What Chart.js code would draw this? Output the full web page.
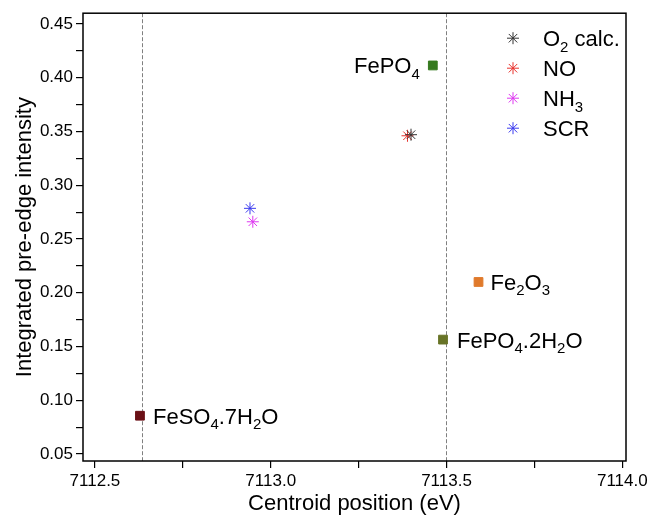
<!DOCTYPE html>
<html>
<head>
<meta charset="utf-8">
<script src="https://cdn.jsdelivr.net/npm/chart.js@4.4.0/dist/chart.umd.min.js"></script>
<style>
	html, body { margin: 0; padding: 0; background: #fff; }
	#wrap { width: 652px; height: 515px; }
</style>
</head>
<body>
<div id="wrap"><canvas id="chart" width="652" height="515"></canvas></div>
<script>
// samples (asterisks)
const sampleNames = ['O_2 calc.', 'NO', 'NH_3', 'SCR'];
const sampleX = [7113.399, 7113.389, 7112.949, 7112.941];
const sampleY = [0.347, 0.346, 0.266, 0.2785];
const sampleColors = ['#333333', '#e8322c', '#dd38f0', '#3a3aef'];

// reference compounds (squares)
const refNames = ['FePO_4', 'Fe_2O_3', 'FePO_4.2H_2O', 'FeSO_4.7H_2O'];
const refX = [7113.461, 7113.591, 7113.49, 7112.628];
const refY = [0.4114, 0.210, 0.1564, 0.0856];
const refColors = ['#367a1f', '#e07a2b', '#687427', '#6a1016'];

// dashed guide lines
const guideX = [7112.633, 7113.498];

const xTicks = [7112.5, 7112.75, 7113.0, 7113.25, 7113.5, 7113.75, 7114.0];
const xTickLabels = ['7112.5', '', '7113.0', '', '7113.5', '', '7114.0'];
const yTicks = [0.05, 0.075, 0.10, 0.125, 0.15, 0.175, 0.20, 0.225, 0.25, 0.275, 0.30, 0.325, 0.35, 0.375, 0.40, 0.425, 0.45];
const yTickLabels = ['0.05', '', '0.10', '', '0.15', '', '0.20', '', '0.25', '', '0.30', '', '0.35', '', '0.40', '', '0.45'];

const family = '"Liberation Sans", Arial, sans-serif';
Chart.defaults.font.family = family;
Chart.defaults.color = '#000';

// text with _n subscripts
function drawRich(ctx, str, x, y, align, size) {
	const parts = [];
	str.split(/(_\d)/).forEach(p => {
		if (!p) return;
		if (p[0] === '_') parts.push({ t: p.slice(1), sub: true });
		else parts.push({ t: p, sub: false });
	});
	const big = size + 'px ' + family;
	const small = Math.round(size * 0.66) + 'px ' + family;
	let w = 0;
	parts.forEach(p => {
		ctx.font = p.sub ? small : big;
		p.w = ctx.measureText(p.t).width;
		w += p.w;
	});
	let cx = align === 'right' ? x - w : x;
	ctx.textAlign = 'left';
	ctx.textBaseline = 'alphabetic';
	parts.forEach(p => {
		ctx.font = p.sub ? small : big;
		ctx.fillText(p.t, cx, p.sub ? y + size * 0.25 : y);
		cx += p.w;
	});
}

const datasets = [];
refNames.forEach((n, i) => {
	datasets.push({
		label: n,
		data: [{ x: refX[i], y: refY[i] }],
		pointStyle: 'rect',
		pointRadius: 6.2,
		backgroundColor: refColors[i],
		borderColor: refColors[i],
		borderWidth: 1
	});
});
sampleNames.forEach((n, i) => {
	datasets.push({
		label: n,
		data: [{ x: sampleX[i], y: sampleY[i] }],
		pointStyle: 'star',
		pointRadius: 6,
		backgroundColor: sampleColors[i],
		borderColor: sampleColors[i],
		borderWidth: 1
	});
});

const annotate = {
	id: 'annotate',
	beforeDatasetsDraw(chart) {
		const { ctx, chartArea, scales } = chart;
		ctx.save();
		ctx.strokeStyle = '#808080';
		ctx.lineWidth = 1;
		ctx.setLineDash([4, 2]);
		guideX.forEach(v => {
			const px = Math.round(scales.x.getPixelForValue(v)) + 0.5;
			ctx.beginPath();
			ctx.moveTo(px, chartArea.top);
			ctx.lineTo(px, chartArea.bottom);
			ctx.stroke();
		});
		ctx.restore();
	},
	afterDatasetsDraw(chart) {
		const { ctx, chartArea, scales } = chart;
		ctx.save();
		// frame
		ctx.strokeStyle = '#000';
		ctx.lineWidth = 1.5;
		ctx.strokeRect(chartArea.left, chartArea.top, chartArea.right - chartArea.left, chartArea.bottom - chartArea.top);

		// compound labels
		ctx.fillStyle = '#000';
		const place = [[-13, 'right'], [12, 'left'], [14, 'left'], [13, 'left']];
		refNames.forEach((n, i) => {
			const px = scales.x.getPixelForValue(refX[i]);
			const py = scales.y.getPixelForValue(refY[i]);
			drawRich(ctx, n, px + place[i][0], py + 8, place[i][1], 22);
		});

		// legend
		const lx = chartArea.right - 113;
		let ly = chartArea.top + 25;
		sampleNames.forEach((n, i) => {
			ctx.strokeStyle = sampleColors[i];
			ctx.fillStyle = sampleColors[i];
			ctx.lineWidth = 1;
			Chart.helpers.drawPoint(ctx, { pointStyle: 'star', radius: 6, borderWidth: 1 }, lx, ly);
			ctx.fillStyle = '#000';
			drawRich(ctx, n, lx + 30, ly + 8, 'left', 22);
			ly += 30;
		});
		ctx.restore();
	}
};

new Chart(document.getElementById('chart').getContext('2d'), {
	type: 'scatter',
	data: { datasets },
	options: {
		responsive: false,
		animation: false,
		layout: { padding: { top: 13, right: 26, left: 0, bottom: 0 } },
		plugins: { legend: { display: false }, tooltip: { enabled: false } },
		scales: {
			x: {
				type: 'linear',
				min: 7112.466,
				max: 7114.0105,
				afterBuildTicks: s => { s.ticks = xTicks.map(v => ({ value: v })); },
				afterFit: s => { s.height = 54; },
				ticks: {
					autoSkip: false,
					maxRotation: 0,
					padding: 3,
					font: { size: 17 },
					color: '#000',
					callback: (v, i) => xTickLabels[i]
				},
				grid: { drawOnChartArea: false, drawTicks: true, tickLength: 7, color: '#000', lineWidth: 1.2 },
				border: { display: false },
				title: {
					display: true,
					text: 'Centroid position (eV)',
					font: { size: 22, lineHeight: 1 },
					padding: { top: 0, bottom: 0 },
					color: '#000'
				}
			},
			y: {
				type: 'linear',
				min: 0.0435,
				max: 0.460,
				afterBuildTicks: s => { s.ticks = yTicks.map(v => ({ value: v })); },
				afterFit: s => { s.width = 83; },
				ticks: {
					autoSkip: false,
					padding: 3,
					font: { size: 17 },
					color: '#000',
					callback: (v, i) => yTickLabels[i]
				},
				grid: { drawOnChartArea: false, drawTicks: true, tickLength: 7, color: '#000', lineWidth: 1.2 },
				border: { display: false },
				title: {
					display: true,
					text: 'Integrated pre-edge intensity',
					font: { size: 22, lineHeight: 1 },
					padding: { top: 14, bottom: 0 },
					color: '#000'
				}
			}
		}
	},
	plugins: [annotate]
});
</script>
</body>
</html>
